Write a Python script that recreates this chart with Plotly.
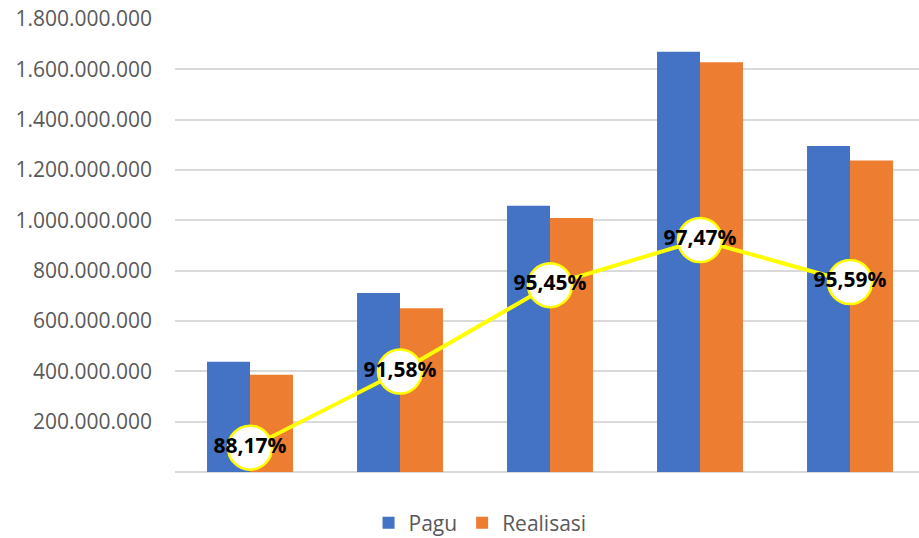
import plotly.graph_objects as go

categories = ["1", "2", "3", "4", "5"]
pagu = [438_000_000, 711_000_000, 1_058_000_000, 1_670_000_000, 1_295_000_000]
realisasi = [386_000_000, 651_000_000, 1_009_000_000, 1_628_000_000, 1_238_000_000]
persen = [0.8817, 0.9158, 0.9545, 0.9747, 0.9559]
tick_vals = [200_000_000, 400_000_000, 600_000_000, 800_000_000, 1_000_000_000,
             1_200_000_000, 1_400_000_000, 1_600_000_000, 1_800_000_000]

FONT = "Open Sans"
H = 538
T = 19
PLOT_BOTTOM = 472  # pixel of baseline
area_h = H - T

fig = go.Figure()
fig.add_trace(go.Bar(name="Pagu", x=categories, y=pagu, marker_color="#4472C4",
                     marker_line_width=0))
fig.add_trace(go.Bar(name="Realisasi", x=categories, y=realisasi, marker_color="#ED7D31",
                     marker_line_width=0))
fig.add_trace(go.Scatter(
    x=categories, y=persen, yaxis="y2", mode="lines+markers+text",
    line=dict(color="#FFFF00", width=4),
    marker=dict(size=44, color="white", line=dict(color="#FFFF00", width=2.5)),
    texttemplate="%{y:.2%}", textposition="middle center",
    textfont=dict(family=FONT, size=21, color="black", weight="bold"),
    showlegend=False, cliponaxis=False,
))

dom_low = (H - PLOT_BOTTOM) / area_h

fig.update_layout(
    width=919, height=H,
    margin=dict(l=175, r=0, t=T, b=0, autoexpand=False),
    paper_bgcolor="white", plot_bgcolor="white",
    separators=",.",
    barmode="group", bargap=0.427, bargroupgap=0,
    font=dict(family=FONT, size=21, color="#595959"),
    xaxis=dict(range=[-0.5, 4.46], showticklabels=False, showgrid=False,
               zeroline=False, showline=False, fixedrange=True),
    yaxis=dict(domain=[dom_low, 1], range=[0, 1_800_000_000], tickvals=tick_vals,
               tickformat=",d",
               showgrid=True, gridcolor="#D9D9D9", gridwidth=1.5,
               zeroline=True, zerolinecolor="#D9D9D9", zerolinewidth=1.5,
               showline=False, ticklabelstandoff=22,
               tickfont=dict(family=FONT, size=21, color="#595959")),
    yaxis2=dict(domain=[dom_low, 1], overlaying="y", range=[0.8708, 1.0737],
                visible=False),
    legend=dict(orientation="h", x=0.41, xanchor="center",
                y=(H - 523) / area_h, yanchor="middle",
                font=dict(family=FONT, size=21, color="#595959"),
                itemwidth=30, traceorder="normal"),
)

fig.write_html("out.html", config={"displayModeBar": False},
               post_script="document.body.style.margin='0';")
